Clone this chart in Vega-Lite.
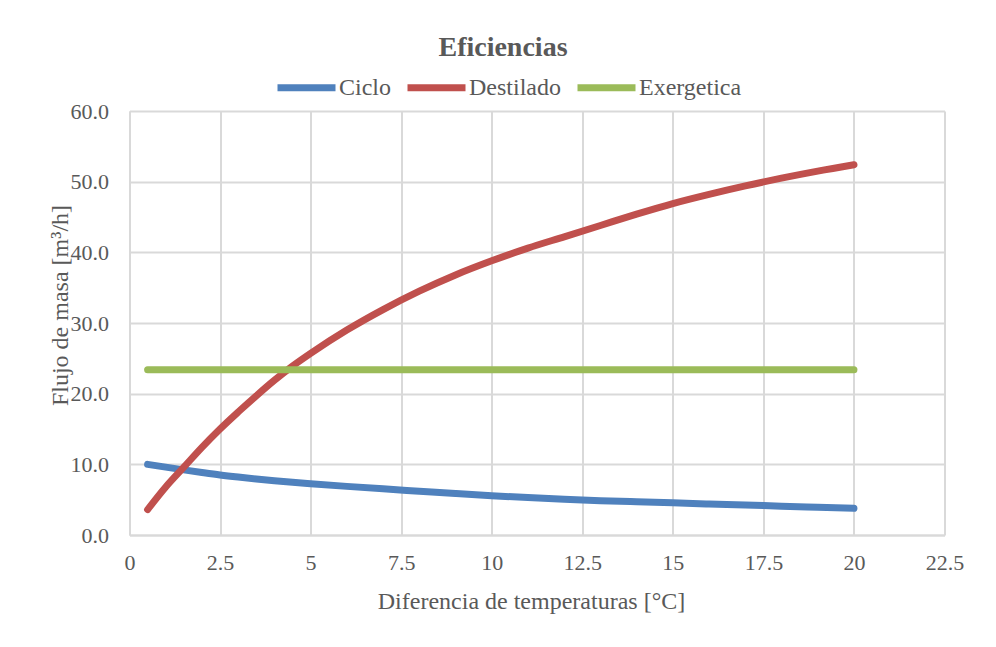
{
  "$schema": "https://vega.github.io/schema/vega-lite/v6.json",
  "width": 815,
  "height": 424,
  "autosize": {"type": "none"},
  "padding": {"left": 129.5, "top": 111, "right": 51.5, "bottom": 112},
  "background": "white",
  "title": {
    "text": "Eficiencias",
    "font": "Liberation Serif",
    "fontSize": 28,
    "fontWeight": "bold",
    "color": "#595959",
    "anchor": "middle",
    "frame": "group",
    "dx": -34,
    "baseline": "alphabetic",
    "offset": -29
  },
  "data": {
    "values": [
      {"x": 0.5, "serie": "Ciclo", "y": 10.0},
      {"x": 1, "serie": "Ciclo", "y": 9.6},
      {"x": 1.5, "serie": "Ciclo", "y": 9.22},
      {"x": 2, "serie": "Ciclo", "y": 8.85},
      {"x": 2.5, "serie": "Ciclo", "y": 8.5},
      {"x": 3, "serie": "Ciclo", "y": 8.2},
      {"x": 3.5, "serie": "Ciclo", "y": 7.93},
      {"x": 4, "serie": "Ciclo", "y": 7.68},
      {"x": 4.5, "serie": "Ciclo", "y": 7.45},
      {"x": 5, "serie": "Ciclo", "y": 7.25},
      {"x": 6, "serie": "Ciclo", "y": 6.88},
      {"x": 7, "serie": "Ciclo", "y": 6.53},
      {"x": 8, "serie": "Ciclo", "y": 6.2},
      {"x": 9, "serie": "Ciclo", "y": 5.87},
      {"x": 10, "serie": "Ciclo", "y": 5.56},
      {"x": 11, "serie": "Ciclo", "y": 5.29},
      {"x": 12, "serie": "Ciclo", "y": 5.05},
      {"x": 13, "serie": "Ciclo", "y": 4.86},
      {"x": 14, "serie": "Ciclo", "y": 4.7},
      {"x": 15, "serie": "Ciclo", "y": 4.55},
      {"x": 16, "serie": "Ciclo", "y": 4.39},
      {"x": 17, "serie": "Ciclo", "y": 4.24},
      {"x": 18, "serie": "Ciclo", "y": 4.08},
      {"x": 19, "serie": "Ciclo", "y": 3.93},
      {"x": 20, "serie": "Ciclo", "y": 3.78},
      {"x": 0.5, "serie": "Destilado", "y": 3.6},
      {"x": 1, "serie": "Destilado", "y": 6.8},
      {"x": 1.5, "serie": "Destilado", "y": 9.6},
      {"x": 2, "serie": "Destilado", "y": 12.4},
      {"x": 2.5, "serie": "Destilado", "y": 15.0},
      {"x": 3, "serie": "Destilado", "y": 17.4},
      {"x": 3.5, "serie": "Destilado", "y": 19.7},
      {"x": 4, "serie": "Destilado", "y": 21.9},
      {"x": 4.5, "serie": "Destilado", "y": 23.9},
      {"x": 5, "serie": "Destilado", "y": 25.7},
      {"x": 6, "serie": "Destilado", "y": 29.0},
      {"x": 7, "serie": "Destilado", "y": 31.9},
      {"x": 8, "serie": "Destilado", "y": 34.5},
      {"x": 9, "serie": "Destilado", "y": 36.8},
      {"x": 10, "serie": "Destilado", "y": 38.8},
      {"x": 11, "serie": "Destilado", "y": 40.6},
      {"x": 12, "serie": "Destilado", "y": 42.2},
      {"x": 13, "serie": "Destilado", "y": 43.8},
      {"x": 14, "serie": "Destilado", "y": 45.4},
      {"x": 15, "serie": "Destilado", "y": 46.9},
      {"x": 16, "serie": "Destilado", "y": 48.2},
      {"x": 17, "serie": "Destilado", "y": 49.4},
      {"x": 18, "serie": "Destilado", "y": 50.5},
      {"x": 19, "serie": "Destilado", "y": 51.5},
      {"x": 20, "serie": "Destilado", "y": 52.4},
      {"x": 0.5, "serie": "Exergetica", "y": 23.4},
      {"x": 5, "serie": "Exergetica", "y": 23.4},
      {"x": 10, "serie": "Exergetica", "y": 23.4},
      {"x": 15, "serie": "Exergetica", "y": 23.4},
      {"x": 20, "serie": "Exergetica", "y": 23.4}
    ]
  },
  "mark": {"type": "line", "strokeWidth": 7, "strokeCap": "round", "strokeJoin": "round", "interpolate": "monotone"},
  "encoding": {
    "x": {
      "field": "x",
      "type": "quantitative",
      "scale": {"domain": [0, 22.5], "nice": false, "zero": false},
      "axis": {
        "values": [0, 2.5, 5, 7.5, 10, 12.5, 15, 17.5, 20, 22.5],
        "labelExpr": "datum.value + ''",
        "title": "Diferencia de temperaturas [°C]",
        "titleX": 401.5,
        "titleY": 73,
        "titleBaseline": "alphabetic",
        "titleFontSize": 24,
        "labelPadding": 17,
        "labelFlush": false
      }
    },
    "y": {
      "field": "y",
      "type": "quantitative",
      "scale": {"domain": [0, 60], "nice": false},
      "axis": {
        "values": [0, 10, 20, 30, 40, 50, 60],
        "format": ".1f",
        "title": "Flujo de masa [m³/h]",
        "titleX": -62.5,
        "titleY": 194,
        "titleAngle": -90,
        "titleAlign": "center",
        "titleBaseline": "alphabetic",
        "titleFontSize": 24,
        "labelPadding": 21
      }
    },
    "color": {
      "field": "serie",
      "type": "nominal",
      "scale": {"domain": ["Ciclo", "Destilado", "Exergetica"], "range": ["#4F81BD", "#C0504D", "#9BBB59"]},
      "legend": {
        "orient": "none",
        "direction": "horizontal",
        "legendX": 144.5,
        "legendY": -56,
        "title": null,
        "symbolType": "stroke",
        "symbolSize": 3364,
        "symbolStrokeWidth": 7,
        "labelOffset": 0,
        "columnPadding": 2,
        "labelFont": "Liberation Serif",
        "labelFontSize": 24,
        "labelColor": "#595959",
        "labelLimit": 0
      }
    }
  },
  "config": {
    "view": {"stroke": null},
    "axis": {
      "labelFont": "Liberation Serif",
      "labelFontSize": 22,
      "labelColor": "#595959",
      "titleFont": "Liberation Serif",
      "titleFontSize": 22,
      "titleFontWeight": "normal",
      "titleColor": "#595959",
      "gridColor": "#D9D9D9",
      "gridWidth": 2,
      "domainColor": "#D9D9D9",
      "domainWidth": 2,
      "ticks": false,
      "grid": true
    }
  }
}
